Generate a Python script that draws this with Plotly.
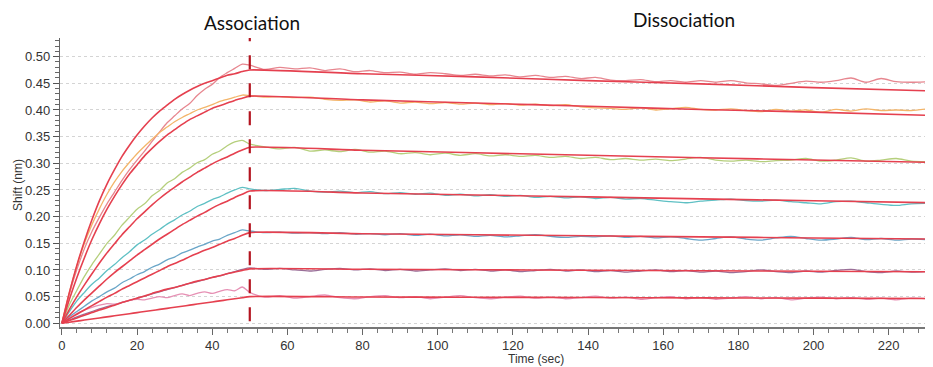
import plotly.graph_objects as go

# time grids (s)
t_assoc = [0, 2, 4, 6, 8, 10, 12, 14, 16, 18, 20, 22, 24, 26, 28, 30, 32, 34, 36, 38, 40, 42, 44, 46, 48, 50]
t_dissoc = [50, 54, 58, 62, 66, 70, 74, 78, 82, 86, 90, 94, 98, 102, 106, 110, 114, 118, 122, 126, 130,
            134, 138, 142, 146, 150, 154, 158, 162, 166, 170, 174, 178, 182, 186, 190, 194, 198, 202, 206,
            210, 214, 218, 222, 226, 230]
t_fit_dissoc = [50, 80, 110, 140, 170, 200, 230]

# ---------------- measured responses (nm) ----------------
d1_a = [0.0, 0.055, 0.101, 0.140, 0.172, 0.199, 0.224, 0.246, 0.268, 0.288, 0.306, 0.323, 0.341, 0.359,
        0.376, 0.389, 0.402, 0.412, 0.427, 0.439, 0.448, 0.461, 0.470, 0.478, 0.486, 0.484]
d1_d = [0.484, 0.476, 0.480, 0.477, 0.479, 0.474, 0.477, 0.472, 0.474, 0.470, 0.471, 0.467, 0.470, 0.468,
        0.465, 0.467, 0.464, 0.466, 0.462, 0.465, 0.461, 0.463, 0.459, 0.461, 0.456, 0.455, 0.457, 0.453,
        0.455, 0.452, 0.455, 0.452, 0.455, 0.451, 0.449, 0.446, 0.450, 0.454, 0.452, 0.455, 0.460, 0.452,
        0.459, 0.453, 0.452, 0.453]

d2_a = [0.0, 0.058, 0.108, 0.150, 0.185, 0.215, 0.242, 0.265, 0.285, 0.302, 0.318, 0.332, 0.345, 0.358,
        0.368, 0.378, 0.386, 0.393, 0.400, 0.405, 0.410, 0.416, 0.420, 0.424, 0.428, 0.427]
d2_d = [0.427, 0.424, 0.425, 0.423, 0.424, 0.420, 0.418, 0.419, 0.415, 0.417, 0.413, 0.415, 0.412, 0.414,
        0.411, 0.413, 0.410, 0.412, 0.409, 0.411, 0.408, 0.410, 0.406, 0.404, 0.403, 0.401, 0.404, 0.400,
        0.402, 0.405, 0.401, 0.400, 0.402, 0.399, 0.397, 0.401, 0.398, 0.400, 0.396, 0.401, 0.398, 0.402,
        0.399, 0.400, 0.399, 0.402]

d3_a = [0.0, 0.035, 0.062, 0.088, 0.110, 0.130, 0.150, 0.165, 0.184, 0.199, 0.214, 0.224, 0.239, 0.249,
        0.263, 0.271, 0.283, 0.291, 0.301, 0.307, 0.317, 0.323, 0.333, 0.340, 0.343, 0.336]
d3_d = [0.336, 0.331, 0.327, 0.330, 0.323, 0.325, 0.322, 0.326, 0.321, 0.323, 0.318, 0.320, 0.316, 0.319,
        0.315, 0.318, 0.314, 0.316, 0.313, 0.315, 0.311, 0.313, 0.309, 0.311, 0.307, 0.309, 0.306, 0.308,
        0.305, 0.308, 0.311, 0.306, 0.304, 0.306, 0.303, 0.305, 0.306, 0.309, 0.304, 0.306, 0.310, 0.304,
        0.306, 0.309, 0.304, 0.303]

d4_a = [0.0, 0.022, 0.042, 0.058, 0.073, 0.085, 0.099, 0.110, 0.123, 0.134, 0.147, 0.156, 0.167, 0.176,
        0.186, 0.194, 0.203, 0.210, 0.219, 0.225, 0.232, 0.237, 0.244, 0.250, 0.255, 0.252]
d4_d = [0.254, 0.249, 0.251, 0.253, 0.248, 0.246, 0.248, 0.245, 0.247, 0.243, 0.245, 0.242, 0.244, 0.240,
        0.242, 0.239, 0.241, 0.238, 0.240, 0.236, 0.238, 0.235, 0.237, 0.234, 0.236, 0.233, 0.234, 0.231,
        0.228, 0.226, 0.229, 0.231, 0.233, 0.230, 0.229, 0.231, 0.228, 0.226, 0.224, 0.228, 0.229, 0.226,
        0.223, 0.221, 0.224, 0.225]

d5_a = [0.0, 0.012, 0.022, 0.032, 0.042, 0.050, 0.059, 0.066, 0.076, 0.083, 0.091, 0.097, 0.105, 0.111,
        0.119, 0.124, 0.132, 0.137, 0.143, 0.148, 0.154, 0.158, 0.165, 0.170, 0.175, 0.173]
d5_d = [0.173, 0.170, 0.171, 0.169, 0.170, 0.168, 0.170, 0.167, 0.168, 0.166, 0.168, 0.165, 0.167, 0.164,
        0.166, 0.163, 0.165, 0.162, 0.164, 0.166, 0.163, 0.161, 0.163, 0.162, 0.164, 0.161, 0.163, 0.160,
        0.162, 0.159, 0.156, 0.159, 0.162, 0.158, 0.156, 0.160, 0.163, 0.159, 0.156, 0.158, 0.161, 0.157,
        0.159, 0.156, 0.158, 0.157]

d6_a = [0.0, 0.006, 0.012, 0.017, 0.022, 0.027, 0.031, 0.035, 0.039, 0.043, 0.047, 0.051, 0.055, 0.059,
        0.063, 0.067, 0.071, 0.075, 0.078, 0.082, 0.086, 0.089, 0.093, 0.097, 0.101, 0.104]
d6_d = [0.104, 0.101, 0.103, 0.100, 0.098, 0.101, 0.103, 0.100, 0.102, 0.099, 0.101, 0.098, 0.100, 0.102,
        0.099, 0.101, 0.098, 0.100, 0.097, 0.099, 0.101, 0.098, 0.100, 0.097, 0.099, 0.096, 0.098, 0.100,
        0.097, 0.099, 0.096, 0.098, 0.095, 0.097, 0.100, 0.097, 0.095, 0.098, 0.096, 0.099, 0.101, 0.097,
        0.095, 0.098, 0.096, 0.097]

d7_a = [0.0, 0.010, 0.018, 0.025, 0.030, 0.034, 0.037, 0.036, 0.039, 0.043, 0.045, 0.044, 0.047, 0.050,
        0.048, 0.052, 0.055, 0.052, 0.056, 0.059, 0.056, 0.060, 0.063, 0.061, 0.068, 0.058]
d7_d = [0.058, 0.049, 0.052, 0.047, 0.050, 0.053, 0.048, 0.046, 0.050, 0.052, 0.048, 0.050, 0.046, 0.049,
        0.052, 0.048, 0.046, 0.049, 0.051, 0.047, 0.049, 0.046, 0.048, 0.051, 0.047, 0.049, 0.045, 0.048,
        0.050, 0.046, 0.048, 0.045, 0.047, 0.050, 0.046, 0.048, 0.044, 0.047, 0.049, 0.046, 0.048, 0.045,
        0.047, 0.044, 0.047, 0.046]

# ---------------- fitted curves (nm) ----------------
f1_a = [0.0, 0.058, 0.109, 0.154, 0.194, 0.230, 0.261, 0.288, 0.313, 0.334, 0.353, 0.370, 0.385, 0.398,
        0.409, 0.420, 0.429, 0.437, 0.444, 0.450, 0.455, 0.460, 0.465, 0.468, 0.472, 0.475]
f2_a = [0.0, 0.045, 0.086, 0.123, 0.157, 0.187, 0.214, 0.238, 0.260, 0.280, 0.297, 0.314, 0.328, 0.341,
        0.353, 0.363, 0.373, 0.382, 0.389, 0.396, 0.403, 0.408, 0.413, 0.418, 0.422, 0.426]
f3_a = [0.0, 0.026, 0.050, 0.072, 0.093, 0.113, 0.132, 0.149, 0.166, 0.181, 0.196, 0.209, 0.222, 0.234,
        0.245, 0.255, 0.265, 0.274, 0.283, 0.291, 0.299, 0.306, 0.312, 0.319, 0.325, 0.330]
f4_a = [0.0, 0.015, 0.030, 0.044, 0.057, 0.070, 0.083, 0.095, 0.106, 0.117, 0.128, 0.138, 0.148, 0.158,
        0.167, 0.176, 0.185, 0.193, 0.201, 0.208, 0.216, 0.223, 0.229, 0.236, 0.242, 0.248]
f5_a = [0.0, 0.009, 0.017, 0.025, 0.033, 0.041, 0.049, 0.056, 0.064, 0.071, 0.078, 0.085, 0.092, 0.099,
        0.106, 0.112, 0.118, 0.125, 0.131, 0.137, 0.142, 0.148, 0.154, 0.159, 0.165, 0.170]
f6_a = [0.0, 0.005, 0.010, 0.015, 0.020, 0.025, 0.029, 0.034, 0.039, 0.043, 0.047, 0.051, 0.056, 0.060,
        0.064, 0.067, 0.071, 0.075, 0.079, 0.082, 0.086, 0.089, 0.093, 0.096, 0.099, 0.102]
f7_a = [0.0, 0.002, 0.004, 0.006, 0.008, 0.010, 0.012, 0.014, 0.016, 0.018, 0.020, 0.022, 0.024, 0.026,
        0.028, 0.030, 0.032, 0.034, 0.036, 0.038, 0.040, 0.042, 0.044, 0.046, 0.048, 0.050]

f1_d = [0.475, 0.468, 0.462, 0.455, 0.449, 0.442, 0.436]
f2_d = [0.426, 0.419, 0.413, 0.407, 0.401, 0.396, 0.390]
f3_d = [0.330, 0.3245, 0.3197, 0.315, 0.3105, 0.3062, 0.302]
f4_d = [0.248, 0.2444, 0.2406, 0.237, 0.2333, 0.2297, 0.2262]
f5_d = [0.170, 0.168, 0.166, 0.164, 0.162, 0.160, 0.158]
f6_d = [0.102, 0.1013, 0.1004, 0.0994, 0.0984, 0.0975, 0.0965]
f7_d = [0.050, 0.0494, 0.0488, 0.0482, 0.0477, 0.0471, 0.0465]

x_ticks = [0, 20, 40, 60, 80, 100, 120, 140, 160, 180, 200, 220]
y_ticks = [0.00, 0.05, 0.10, 0.15, 0.20, 0.25, 0.30, 0.35, 0.40, 0.45, 0.50]
phase_labels = ["Association", "Dissociation"]
phase_switch = 50

data_sets = [(d1_a, d1_d, "#e7868f"), (d2_a, d2_d, "#f3b56a"), (d3_a, d3_d, "#b5cf7c"),
             (d4_a, d4_d, "#5fc0c4"), (d5_a, d5_d, "#6aa6c8"), (d6_a, d6_d, "#9a6f98"),
             (d7_a, d7_d, "#e690b4")]
fit_sets = [(f1_a, f1_d), (f2_a, f2_d), (f3_a, f3_d), (f4_a, f4_d), (f5_a, f5_d), (f6_a, f6_d), (f7_a, f7_d)]
FIT_COLOR = "#e5404f"

fig = go.Figure()
for a, d, col in data_sets:
    fig.add_trace(go.Scatter(x=t_assoc + t_dissoc[1:], y=a + d[1:], mode="lines",
                             line=dict(color=col, width=1.3, shape="spline", smoothing=0.8),
                             showlegend=False, hoverinfo="skip"))
for a, d in fit_sets:
    fig.add_trace(go.Scatter(x=t_assoc + t_fit_dissoc[1:], y=a + d[1:], mode="lines",
                             line=dict(color=FIT_COLOR, width=1.6, shape="spline", smoothing=0.6),
                             showlegend=False, hoverinfo="skip"))

fig.add_shape(type="line", xref="x", yref="paper", x0=phase_switch, x1=phase_switch, y0=0.02, y1=1.0,
              line=dict(color="#b3141f", width=2.2, dash="14px,14px"))

# page body has an 8px margin: figure is drawn at (8, 8) in the window
OFF = 8
W, H = 933 - OFF, 367 - OFF
L, R, T, B = 60 - OFF, 3, 38 - OFF, 40


def px_x(px):
    return (px - OFF - L) / (W - L - R)


def px_y(py):
    return (H - B - (py - OFF)) / (H - T - B)


tick_font = dict(family="Liberation Sans, Arial, sans-serif", size=13, color="#333333")
fig.update_xaxes(range=[-0.5, 231], tickvals=x_ticks, ticks="outside", ticklen=6, tickcolor="#666",
                 minor=dict(dtick=4, tick0=0, ticks="outside", ticklen=4, tickcolor="#777"),
                 showline=True, linecolor="#777", linewidth=1.5, showgrid=False, zeroline=False,
                 tickfont=tick_font)
fig.update_yaxes(range=[-0.007, 0.535], tickvals=y_ticks, tickformat=".2f", ticks="outside", ticklen=6,
                 tickcolor="#555", minor=dict(dtick=0.01, tick0=0, ticks="outside", ticklen=4, tickcolor="#666"),
                 showline=True, linecolor="#666", linewidth=1.2, showgrid=True, gridcolor="#d4d4d4",
                 griddash="dot", gridwidth=1, zeroline=False, tickfont=tick_font)

ann_font = dict(family="Lato, Carlito, Calibri, sans-serif", size=19, color="#111111")
fig.add_annotation(x=px_x(252), y=px_y(22), xref="paper", yref="paper", text=phase_labels[0],
                   showarrow=False, font=ann_font, xanchor="center", yanchor="middle")
fig.add_annotation(x=px_x(684), y=px_y(20), xref="paper", yref="paper", text=phase_labels[1],
                   showarrow=False, font=ann_font, xanchor="center", yanchor="middle")
fig.add_annotation(x=px_x(536), y=px_y(359), xref="paper", yref="paper", text="Time (sec)",
                   showarrow=False, font=dict(family="Liberation Sans, Arial", size=12, color="#333"),
                   xanchor="center", yanchor="middle")
fig.add_annotation(x=px_x(18), y=px_y(185), xref="paper", yref="paper", text="Shift (nm)", textangle=-90,
                   showarrow=False, font=dict(family="Liberation Sans, Arial", size=12, color="#333"),
                   xanchor="center", yanchor="middle")

fig.update_layout(width=W, height=H, margin=dict(l=L, r=R, t=T, b=B), plot_bgcolor="white",
                  paper_bgcolor="white", showlegend=False)
fig.write_html("out.html")
